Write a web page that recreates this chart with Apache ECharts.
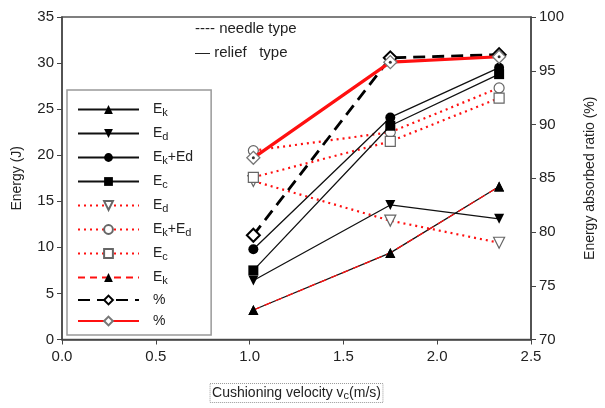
<!DOCTYPE html>
<html>
<head>
<meta charset="utf-8">
<script src="https://cdn.jsdelivr.net/npm/echarts@6/dist/echarts.min.js"></script>
<style>
  html, body { margin: 0; padding: 0; background: #fff; }
  #chart { width: 605px; height: 408px; }
</style>
</head>
<body>
<div id="chart"></div>
<script>
// cushioning velocity (m/s)
const velocity = [1.02, 1.75, 2.33];

// relief type (solid black)
const reliefEk = [3.2, 9.4, 16.6];
const reliefEd = [6.4, 14.6, 13.1];
const reliefEkEd = [9.8, 24.1, 29.5];
const reliefEc = [7.5, 23.2, 28.8];

// needle type (red)
const needleEd = [17.2, 12.9, 10.5];
const needleEkEd = [20.5, 22.5, 27.3];
const needleEc = [17.6, 21.5, 26.2];
const needleEk = [3.2, 9.4, 16.6];

// energy absorbed ratio (%)
const needleRatio = [79.7, 96.2, 96.5];
const reliefRatio = [86.9, 95.8, 96.3];

const xTicks = [0, 0.5, 1.0, 1.5, 2.0, 2.5];

const pairs = vals => velocity.map((v, i) => [v, vals[i]]);

const FONT = 'Liberation Sans, Arial, sans-serif';
const RED = '#ff1010';

const legendText = {
  rEk: '{g|}{b|E}{s|k}',
  rEd: '{g|}{b|E}{s|d}',
  rEkEd: '{g|}{b|E}{s|k}{b|+Ed}',
  rEc: '{g|}{b|E}{s|c}',
  nEd: '{g|}{b|E}{s|d}',
  nEkEd: '{g|}{b|E}{s|k}{b|+E}{s|d}',
  nEc: '{g|}{b|E}{s|c}',
  nEk: '{g|}{b|E}{s|k}',
  nRatio: '{g|}{b|%}',
  rRatio: '{g|}{b|%}'
};

const chart = echarts.init(document.getElementById('chart'));

const solid = (name, data, symbol, rotate) => ({
  name: name,
  type: 'line',
  data: pairs(data),
  symbol: symbol,
  symbolSize: 10,
  symbolRotate: rotate || 0,
  lineStyle: { color: '#111', width: 1.3, type: 'solid' },
  itemStyle: { color: '#000', borderColor: '#000', borderWidth: 0 },
  z: 3
});

const dotted = (name, data, symbol, rotate, size) => ({
  name: name,
  type: 'line',
  data: pairs(data),
  symbol: symbol,
  symbolSize: size || 10,
  symbolRotate: rotate || 0,
  lineStyle: { color: RED, width: 2.2, type: [2, 4] },
  itemStyle: { color: '#fff', borderColor: '#666', borderWidth: 1.2 },
  z: 2
});

const option = {
  animation: false,
  textStyle: { fontFamily: FONT },
  grid: {
    left: 62, right: 74, top: 17, bottom: 65,
    show: true, borderColor: '#555', borderWidth: 1.5
  },
  graphic: [
    { type: 'text', left: 195, top: 21,
      style: { text: '---- needle type', font: '15px ' + FONT, fill: '#222' } },
    { type: 'text', left: 195, top: 45,
      style: { text: '— relief   type', font: '15px ' + FONT, fill: '#222' } }
  ],
  legend: {
    orient: 'vertical',
    left: 67, top: 90,
    padding: [11, 18, 7, 10],
    itemWidth: 61, itemHeight: 11, itemGap: 7,
    borderColor: '#999', borderWidth: 1.5,
    selectedMode: false,
    data: ['rEk', 'rEd', 'rEkEd', 'rEc', 'nEd', 'nEkEd', 'nEc', 'nEk', 'nRatio', 'rRatio'],
    formatter: name => legendText[name],
    textStyle: {
      color: '#222',
      rich: {
        g: { width: 9 },
        b: { fontSize: 14, fontFamily: FONT, color: '#222', lineHeight: 16 },
        s: { fontSize: 11, fontFamily: FONT, color: '#222', lineHeight: 16, padding: [6, 0, 0, 0] }
      }
    }
  },
  xAxis: {
    type: 'value',
    min: 0, max: 2.5, interval: 0.5,
    name: '{t|Cushioning velocity v}{s|c}{t|(m/s)}',
    nameLocation: 'middle',
    nameGap: 44,
    nameTextStyle: {
      borderType: 'dotted', borderColor: '#999', borderWidth: 1, padding: [1, 2, 1, 2],
      rich: {
        t: { fontSize: 14, color: '#222', fontFamily: FONT },
        s: { fontSize: 11, color: '#222', fontFamily: FONT, padding: [6, 0, 0, 0] }
      }
    },
    axisLine: { show: true, lineStyle: { color: '#444', width: 1.5 } },
    axisTick: { show: true, length: 5, lineStyle: { color: '#444' } },
    axisLabel: {
      fontSize: 15, color: '#222', margin: 10,
      formatter: v => xTicks.includes(v) ? v.toFixed(1) : ''
    },
    splitLine: { show: false }
  },
  yAxis: [
    {
      type: 'value',
      min: 0, max: 35, interval: 5,
      name: 'Energy (J)',
      nameLocation: 'middle',
      nameGap: 38,
      nameTextStyle: { fontSize: 14, color: '#222' },
      axisLine: { show: true, lineStyle: { color: '#444', width: 1.5 } },
      axisTick: { show: true, length: 5, lineStyle: { color: '#444' } },
      axisLabel: { fontSize: 15, color: '#222', margin: 8 },
      splitLine: { show: false }
    },
    {
      type: 'value',
      position: 'right',
      min: 70, max: 100, interval: 5,
      name: 'Energy absorbed ratio (%)',
      nameLocation: 'middle',
      nameRotate: 90,
      nameGap: 52,
      nameTextStyle: { fontSize: 14, color: '#222' },
      axisLine: { show: true, lineStyle: { color: '#444', width: 1.5 } },
      axisTick: { show: true, length: 5, lineStyle: { color: '#444' } },
      axisLabel: { fontSize: 15, color: '#222', margin: 8 },
      splitLine: { show: false }
    }
  ],
  series: [
    solid('rEk', reliefEk, 'triangle'),
    solid('rEd', reliefEd, 'triangle', 180),
    solid('rEkEd', reliefEkEd, 'circle'),
    solid('rEc', reliefEc, 'rect'),
    dotted('nEd', needleEd, 'triangle', 180, 11),
    dotted('nEkEd', needleEkEd, 'circle', 0, 10),
    dotted('nEc', needleEc, 'rect', 0, 10),
    {
      name: 'nEk',
      type: 'line',
      data: pairs(needleEk),
      symbol: 'triangle',
      symbolSize: 10,
      lineStyle: { color: RED, width: 1.3, type: [7, 5] },
      itemStyle: { color: '#000' },
      z: 4
    },
    {
      name: 'nRatio',
      type: 'line',
      yAxisIndex: 1,
      data: pairs(needleRatio),
      symbol: 'diamond',
      symbolSize: 13,
      lineStyle: { color: '#000', width: 2.8, type: [12, 7] },
      itemStyle: { color: '#fff', borderColor: '#000', borderWidth: 2 },
      z: 5
    },
    {
      name: 'rRatio',
      type: 'line',
      yAxisIndex: 1,
      data: pairs(reliefRatio),
      symbol: 'diamond',
      symbolSize: 13,
      lineStyle: { color: RED, width: 3.2 },
      itemStyle: { color: '#fff', borderColor: '#777', borderWidth: 1.3 },
      z: 6
    },
    {
      name: 'rRatioDot',
      type: 'scatter',
      yAxisIndex: 1,
      data: pairs(reliefRatio),
      symbol: 'circle',
      symbolSize: 3,
      itemStyle: { color: '#000' },
      z: 7
    }
  ]
};

chart.setOption(option);
</script>
</body>
</html>
